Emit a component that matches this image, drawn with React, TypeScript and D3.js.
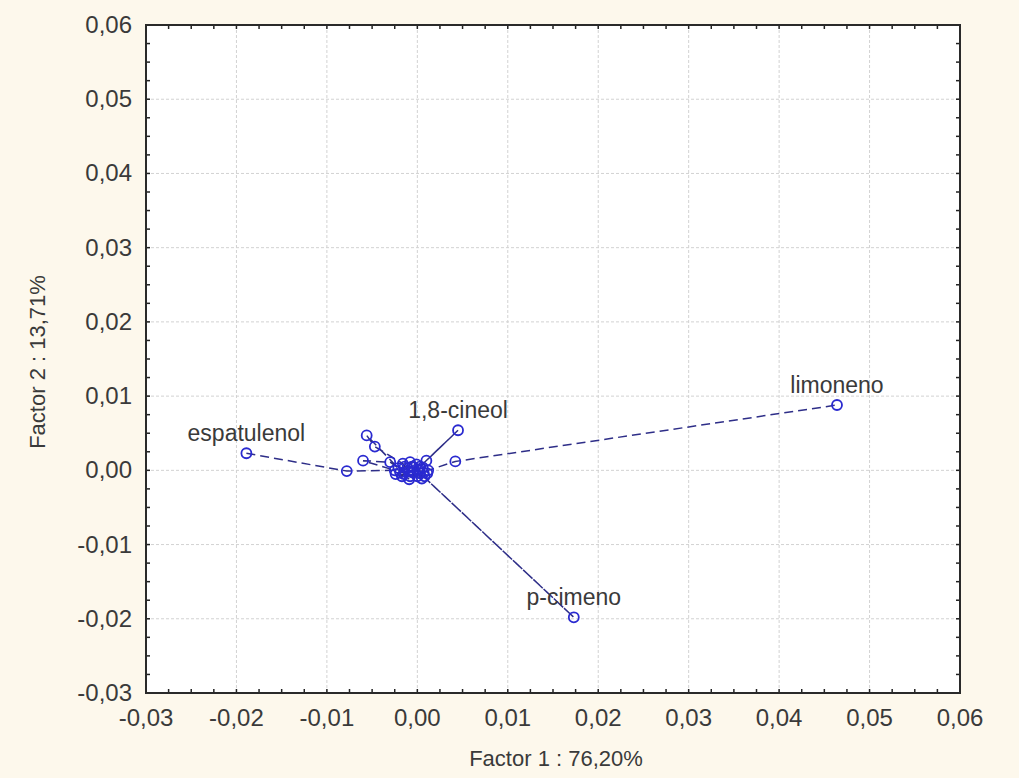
import React from "react";
import * as d3 from "d3";

const pointX = [
  -0.0189, -0.0078, -0.0025, -0.006, -0.003, -0.0021, -0.0056, -0.0047, -0.0016, -0.001, -0.0014,
  -0.0006, -0.0008, 0.0, -0.0024, -0.0017, -0.0011, -0.0005, -0.0001, 0.0002, 0.0006, 0.0008,
  -0.0015, -0.0009, 0.0003, 0.0045, 0.001, 0.0007, -0.0008, -0.0004, 0.0173, 0.0003, 0.0005,
  -0.0019, 0.0001, 0.0011, 0.0012, 0.0042, 0.0464,
];
const pointY = [
  0.0023, -0.0001, 0.0, 0.0013, 0.0011, 0.0003, 0.0047, 0.0032, 0.0009, -0.0001, 0.0005,
  0.0005, 0.0011, -0.0008, -0.0005, -0.0008, 0.0003, -0.0003, 0.0008, 0.0001, 0.0004, -0.0008,
  -0.0005, -0.0012, 0.0005, 0.0054, 0.0013, -0.0003, -0.0008, 0.0004, -0.0198, -0.0004, -0.0011,
  -0.0003, 0.0, -0.0004, 0.0, 0.0012, 0.0088,
];
const pointLabels = [
  "espatulenol", "", "", "", "", "", "", "", "", "", "",
  "", "", "", "", "", "", "", "", "", "", "",
  "", "", "", "1,8-cineol", "", "", "", "", "p-cimeno", "", "",
  "", "", "", "", "", "limoneno",
];
const xTicks = [-0.03, -0.02, -0.01, 0.0, 0.01, 0.02, 0.03, 0.04, 0.05, 0.06];
const yTicks = [-0.03, -0.02, -0.01, 0.0, 0.01, 0.02, 0.03, 0.04, 0.05, 0.06];
const xTitle = "Factor 1 : 76,20%";
const yTitle = "Factor 2 : 13,71%";

const W = 1019;
const H = 778;
const L = 146, R = 960, T = 25, B = 693;

export default function App() {
  const x = d3.scaleLinear().domain([-0.03, 0.06]).range([L, R]);
  const y = d3.scaleLinear().domain([-0.03, 0.06]).range([B, T]);
  const fmt = (v: number) => d3.format(".2f")(Math.abs(v) < 1e-12 ? 0 : v).replace("−", "-").replace(".", ",");
  const minorX = d3.range(-0.03, 0.06 + 1e-9, 0.0025);
  const minorY = d3.range(-0.03, 0.06 + 1e-9, 0.0025);
  const pts = pointX.map((v, i) => [x(v), y(pointY[i])] as [number, number]);
  const line = d3.line()(pts) || "";
  const font = "'Liberation Sans', Arial, sans-serif";
  const textColor = "#3a3a3a";
  return (
    <svg width={W} height={H} style={{ position: "absolute", left: 0, top: 0 }} fontFamily={font}>
      <rect x={0} y={0} width={W} height={H} fill="#fdf8ec" />
      <rect x={L} y={T} width={R - L} height={B - T} fill="#ffffff" />
      {xTicks.slice(1, -1).map((t) => (
        <line key={"gx" + t} x1={x(t)} x2={x(t)} y1={T} y2={B} stroke="#d2d2d2" strokeDasharray="3,2" strokeWidth={1} />
      ))}
      {yTicks.slice(1, -1).map((t) => (
        <line key={"gy" + t} x1={L} x2={R} y1={y(t)} y2={y(t)} stroke="#d2d2d2" strokeDasharray="3,2" strokeWidth={1} />
      ))}
      {minorX.map((t, i) => (
        <g key={"tx" + i}>
          <line x1={x(t)} x2={x(t)} y1={B} y2={B - 4} stroke="#222" strokeWidth={1.5} />
          <line x1={x(t)} x2={x(t)} y1={T} y2={T + 4} stroke="#222" strokeWidth={1.5} />
        </g>
      ))}
      {minorY.map((t, i) => (
        <g key={"ty" + i}>
          <line x1={L} x2={L + 4} y1={y(t)} y2={y(t)} stroke="#222" strokeWidth={1.5} />
          <line x1={R} x2={R - 4} y1={y(t)} y2={y(t)} stroke="#222" strokeWidth={1.5} />
        </g>
      ))}
      <rect x={L} y={T} width={R - L} height={B - T} fill="none" stroke="#2a2a2a" strokeWidth={2} />
      {xTicks.map((t) => (
        <text key={"lx" + t} x={x(t)} y={B + 33} textAnchor="middle" fontSize={24} fill={textColor}>
          {fmt(t)}
        </text>
      ))}
      {yTicks.map((t) => (
        <text key={"ly" + t} x={L - 14} y={y(t) + 8} textAnchor="end" fontSize={24} fill={textColor}>
          {fmt(t)}
        </text>
      ))}
      <text x={556} y={766} textAnchor="middle" fontSize={22} fill={textColor}>
        {xTitle}
      </text>
      <text transform={`translate(45,362) rotate(-90)`} textAnchor="middle" fontSize={22} fill={textColor}>
        {yTitle}
      </text>
      <path d={line} fill="none" stroke="#2e2e88" strokeWidth={1.5} strokeDasharray="9,5" />
      {pts.map((p, i) => (
        <circle key={"c" + i} cx={p[0]} cy={p[1]} r={5} fill="none" stroke="#2a2ad0" strokeWidth={1.8} />
      ))}
      {pts.map((p, i) =>
        pointLabels[i] ? (
          <text key={"t" + i} x={p[0]} y={p[1] - 12} textAnchor="middle" fontSize={23} fill={textColor}>
            {pointLabels[i]}
          </text>
        ) : null
      )}
    </svg>
  );
}
